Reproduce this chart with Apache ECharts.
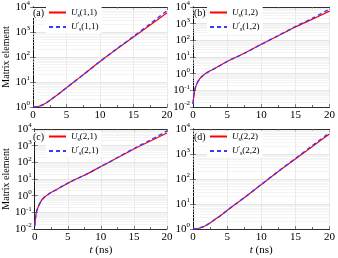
<!DOCTYPE html>
<html><head><meta charset="utf-8">
<script src="https://cdn.jsdelivr.net/npm/echarts@6/dist/echarts.min.js"></script>
<style>html,body{margin:0;padding:0;background:#fff}#c{width:338px;height:258px}</style>
</head><body><div id="c"></div>
<script>
const t = [0,0.05,0.1,0.25,0.5,1,1.5,2,2.5,3,4,5,6,7.5,10,12.5,15,17.5,20];
const U11 = [1,1,1,1.005,1.02,1.1,1.23,1.48,1.82,2.29,3.63,5.89,9.55,19.5,66.1,209,631,1905,5888];
const U11p = [1,1,1,1.005,1.02,1.1,1.23,1.48,1.82,2.29,3.63,5.89,9.55,19.5,66.1,212,665,2140,7200];
const U12 = [0.015,0.025,0.04,0.1,0.22,0.5,0.79,1.12,1.48,1.86,3.16,5.4,8.5,16.6,57.5,190,631,1862,5623];
const U12p = [0.015,0.025,0.04,0.1,0.22,0.5,0.79,1.12,1.48,1.86,3.16,5.4,8.5,16.6,57.5,193,676,2138,7413];
const U21 = [0.015,0.025,0.04,0.1,0.2,0.5,0.83,1.17,1.58,2.0,3.4,5.6,9.0,16.6,56,186,631,1905,5750];
const U21p = [0.015,0.025,0.04,0.1,0.2,0.5,0.83,1.17,1.58,2.0,3.4,5.6,9.0,16.6,56,190,676,2190,7600];
const U22 = [1,1,1,1.005,1.02,1.1,1.23,1.45,1.74,2.19,3.39,5.5,8.9,17.8,60,200,631,2000,6310];
const U22p = [1,1,1,1.005,1.02,1.1,1.23,1.45,1.74,2.19,3.39,5.5,8.9,17.8,60,203,660,2190,7000];
const panels = [
  {tag:'(a)', idx:'1,1', red:U11, blue:U11p, ymin:1, ymax:1e4, left:32, top:5, width:135, height:102, yname:true, xname:false},
  {tag:'(b)', idx:'1,2', red:U12, blue:U12p, ymin:0.01, ymax:1e4, left:193, top:5, width:137, height:102, yname:false, xname:false},
  {tag:'(c)', idx:'2,1', red:U21, blue:U21p, ymin:0.01, ymax:1e4, left:32, top:129, width:135, height:100, yname:true, xname:true},
  {tag:'(d)', idx:'2,2', red:U22, blue:U22p, ymin:1, ymax:1e4, left:193, top:129, width:137, height:100, yname:false, xname:true}
];
const FONT = 'Liberation Serif';
const grid=[], xAxis=[], yAxis=[], series=[], legend=[], title=[];
function pairs(arr){ return t.map((v,i)=>[v,arr[i]]); }
function minorLines(ymin,ymax){
  const out=[];
  for(let d=ymin; d<ymax; d*=10){
    for(let k=2;k<=9;k++) out.push({yAxis:k*d});
  }
  return out;
}
panels.forEach((p,i)=>{
  grid.push({left:p.left, top:p.top, width:p.width, height:p.height, show:false});
  const axLine = {show:true, lineStyle:{color:'#000', width:0.8}};
  xAxis.push({type:'value', gridIndex:i, min:0, max:20, interval:5, position:'bottom',
    axisLine:axLine, axisTick:{inside:true, length:3, lineStyle:{color:'#333',width:0.6}},
    minorTick:{show:true, splitNumber:2, length:2, lineStyle:{color:'#666'}},
    splitLine:{show:true, lineStyle:{color:'#dcdcdc', width:0.6}},
    axisLabel:{fontFamily:FONT, fontSize:11, color:'#000', margin:3},
    name: p.xname ? '{i|t} (ns)' : '', nameLocation:'middle', nameGap:16,
    nameTextStyle:{fontFamily:FONT, fontSize:11, color:'#000', rich:{i:{fontStyle:'italic', fontFamily:FONT, fontSize:11}}}
  });
  xAxis.push({type:'value', gridIndex:i, min:0, max:20, interval:5, position:'top',
    axisLine:axLine, axisTick:{inside:true, length:3, lineStyle:{color:'#333',width:0.6}},
    minorTick:{show:true, splitNumber:2, length:2, lineStyle:{color:'#666'}},
    splitLine:{show:false}, axisLabel:{show:false}});
  yAxis.push({type:'log', logBase:10, gridIndex:i, min:p.ymin, max:p.ymax, position:'left',
    axisLine:axLine, axisTick:{inside:true, length:3, lineStyle:{color:'#333',width:0.6}},
    splitLine:{show:true, lineStyle:{color:'#d4d4d4', width:0.6}},
    axisLabel:{fontFamily:FONT, fontSize:11, color:'#000', margin:3,
      formatter:v=>'{b|10}{s|'+Math.round(Math.log10(v))+'}',
      rich:{b:{fontFamily:FONT, fontSize:11, color:'#000'}, s:{fontFamily:FONT, fontSize:7, color:'#000', padding:[0,0,7,0]}}},
    name: p.yname ? 'Matrix element' : '', nameLocation:'middle', nameGap:22,
    nameTextStyle:{fontFamily:FONT, fontSize:10, color:'#000'}
  });
  yAxis.push({type:'log', logBase:10, gridIndex:i, min:p.ymin, max:p.ymax, position:'right',
    axisLine:axLine, axisTick:{inside:true, length:3, lineStyle:{color:'#333',width:0.6}},
    splitLine:{show:false}, axisLabel:{show:false}});
  const rn = 'r'+i, bn = 'b'+i;
  series.push({name:rn, type:'line', xAxisIndex:2*i, yAxisIndex:2*i, data:pairs(p.red), smooth:0.3,
    showSymbol:false, symbol:'none', lineStyle:{color:'#ff0000', width:1.2}, itemStyle:{color:'#ff0000'},
    z:3, animation:false,
    markLine:{silent:true, symbol:'none', label:{show:false}, animation:false,
      lineStyle:{color:'#ececec', width:0.6, type:'solid'}, data:minorLines(p.ymin,p.ymax), z:1}});
  series.push({name:bn, type:'line', xAxisIndex:2*i, yAxisIndex:2*i, data:pairs(p.blue), smooth:0.3,
    showSymbol:false, symbol:'none', lineStyle:{color:'#3a3aff', width:1.4, type:[4,3]}, itemStyle:{color:'#3a3aff'},
    z:4, animation:false});
  legend.push({data:[rn,bn], orient:'vertical', left:p.left+14, top:p.top+2, itemWidth:17, itemHeight:8, itemGap:3,
    backgroundColor:'#fff', padding:[1,3,1,2],
    itemStyle:{opacity:0, borderWidth:0},
    formatter:n=>{ const pr = n[0]==='b'; return '{i|U}'+(pr?'{p|\u2032}':'')+'{u|s}('+p.idx+')'; },
    textStyle:{fontFamily:FONT, fontSize:9, color:'#000',
      rich:{i:{fontFamily:FONT, fontStyle:'italic', fontSize:9}, u:{fontFamily:FONT, fontSize:6, padding:[5,0,0,0]},
            p:{fontFamily:FONT, fontSize:7, padding:[0,0,5,0]}}}});
  title.push({text:p.tag, left:p.left+1, top:p.top+3, padding:0, backgroundColor:'#fff',
    textStyle:{fontFamily:FONT, fontSize:10, fontWeight:'normal', color:'#000'}});
});
const chart = echarts.init(document.getElementById('c'), null, {renderer:'canvas'});
chart.setOption({animation:false, backgroundColor:'#fff', grid, xAxis, yAxis, series, legend, title});
</script></body></html>
